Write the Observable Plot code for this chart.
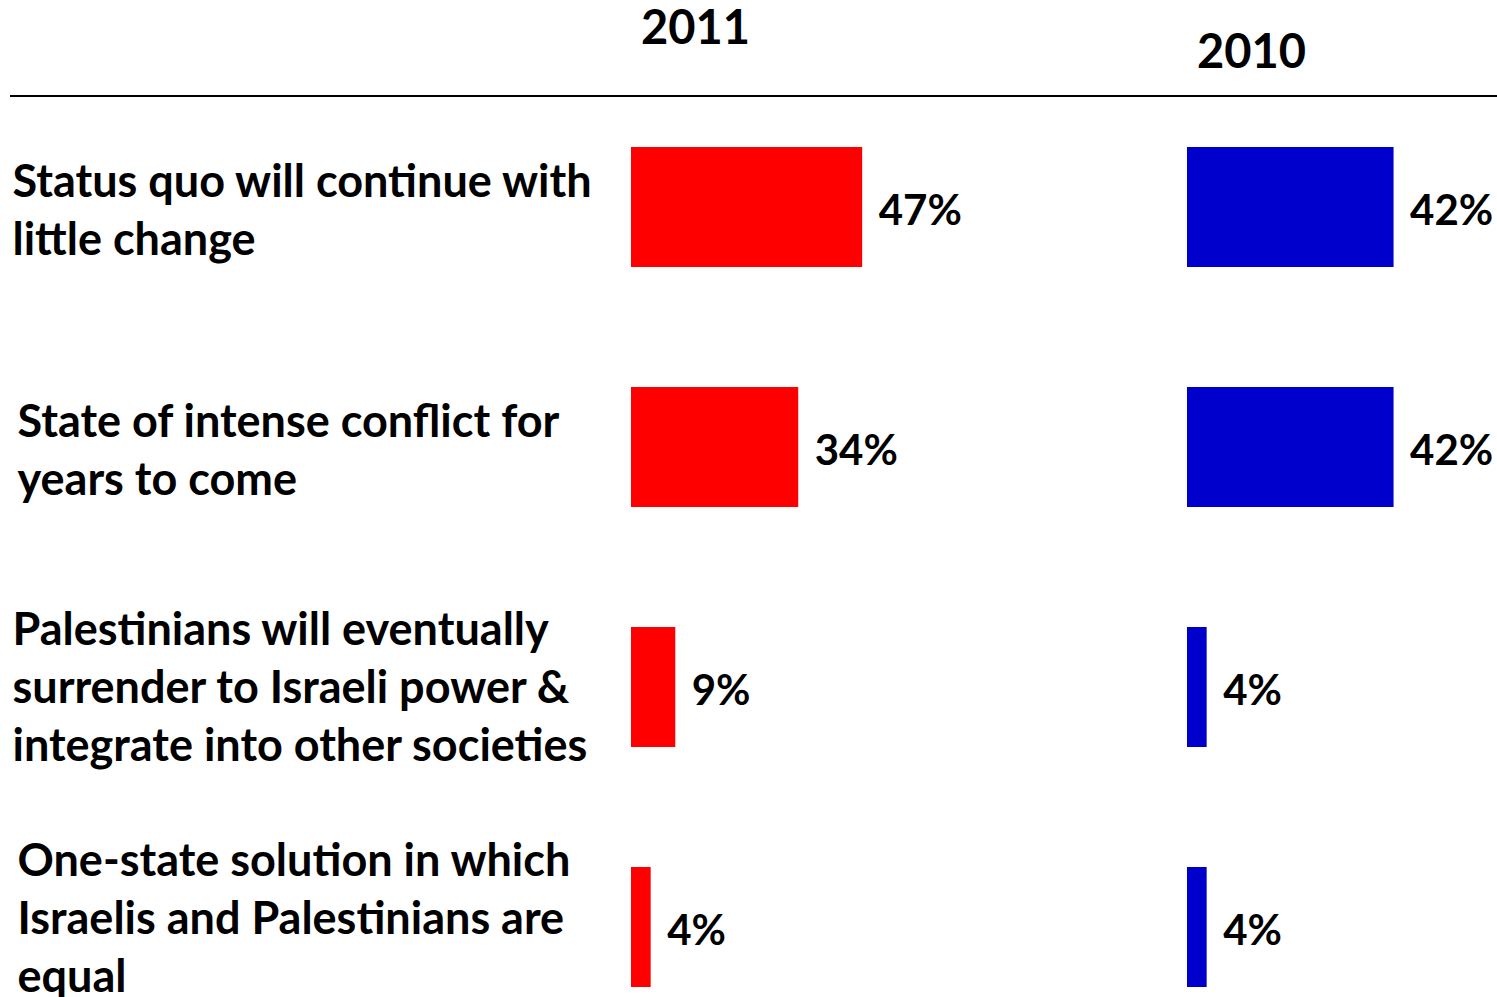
<!DOCTYPE html>
<html><head><meta charset="utf-8">
<script src="https://cdn.jsdelivr.net/npm/d3@7"></script>
<script src="https://cdn.jsdelivr.net/npm/@observablehq/plot@0.6"></script>
<style>
html,body{margin:0;padding:0;background:#fff;}
#wrap{position:relative;width:1497px;height:997px;overflow:hidden;}
#rule{position:absolute;left:10px;right:0;top:95px;height:2px;background:#000;}
</style></head><body>
<div id="wrap"><div id="rule"></div></div>
<script>
const categories = [
  "Status quo will continue with\nlittle change",
  "State of intense conflict for\nyears to come",
  "Palestinians will eventually\nsurrender to Israeli power &\nintegrate into other societies",
  "One-state solution in which\nIsraelis and Palestinians are\nequal"
];
const years = ["2011", "2010"];
const values2011 = [47, 34, 9, 4];
const values2010 = [42, 42, 4, 4];
const colors = ["#FF0000", "#0000CC"];

const data = [];
categories.forEach((c, i) => {
  data.push({category: c, year: "2011", value: values2011[i]});
  data.push({category: c, year: "2010", value: values2010[i]});
});

const rowDx = [-619, -614, -619, -614];
const rowDy = [0, 0, -3, -12];

const chart = Plot.plot({
  width: 1497, height: 997,
  marginTop: 0, marginRight: 0, marginBottom: 0, marginLeft: 0,
  style: {fontFamily: "Lato, sans-serif", fontWeight: "bold", fontSize: "42px", color: "#000", background: "transparent", overflow: "visible"},
  fx: {domain: years, range: [631, 1487], paddingInner: 0.4604, paddingOuter: 0, round: false, axis: null},
  x: {domain: [0, 61], axis: null},
  y: {domain: categories, range: [87, 1047], paddingInner: 0.5, paddingOuter: 0.25, round: false, axis: null},
  color: {domain: years, range: colors},
  marks: [
    Plot.barX(data, {fx: "year", y: "category", x: "value", fill: "year"}),
    Plot.text(data, {fx: "year", y: "category", x: "value", text: d => d.value + "%", textAnchor: "start", dx: 16, dy: 4, fill: "#000", fontSize: 42}),
    Plot.text(["2011"], {fx: d => d, text: d => d, frameAnchor: "top", lineAnchor: "top", dx: -86, dy: 10, fontSize: 47, fill: "#000"}),
    Plot.text(["2010"], {fx: d => d, text: d => d, frameAnchor: "top", lineAnchor: "top", dx: -86, dy: 34, fontSize: 47, fill: "#000"}),
    ...categories.map((c, i) => Plot.axisY({
      ticks: [c], tickSize: 0, tickPadding: 0, textAnchor: "start", label: null,
      dx: rowDx[i], dy: rowDy[i], lineHeight: 58 / 45, fontSize: 45, fill: "#000"
    }))
  ]
});
document.getElementById("wrap").prepend(chart);
</script>
</body></html>
